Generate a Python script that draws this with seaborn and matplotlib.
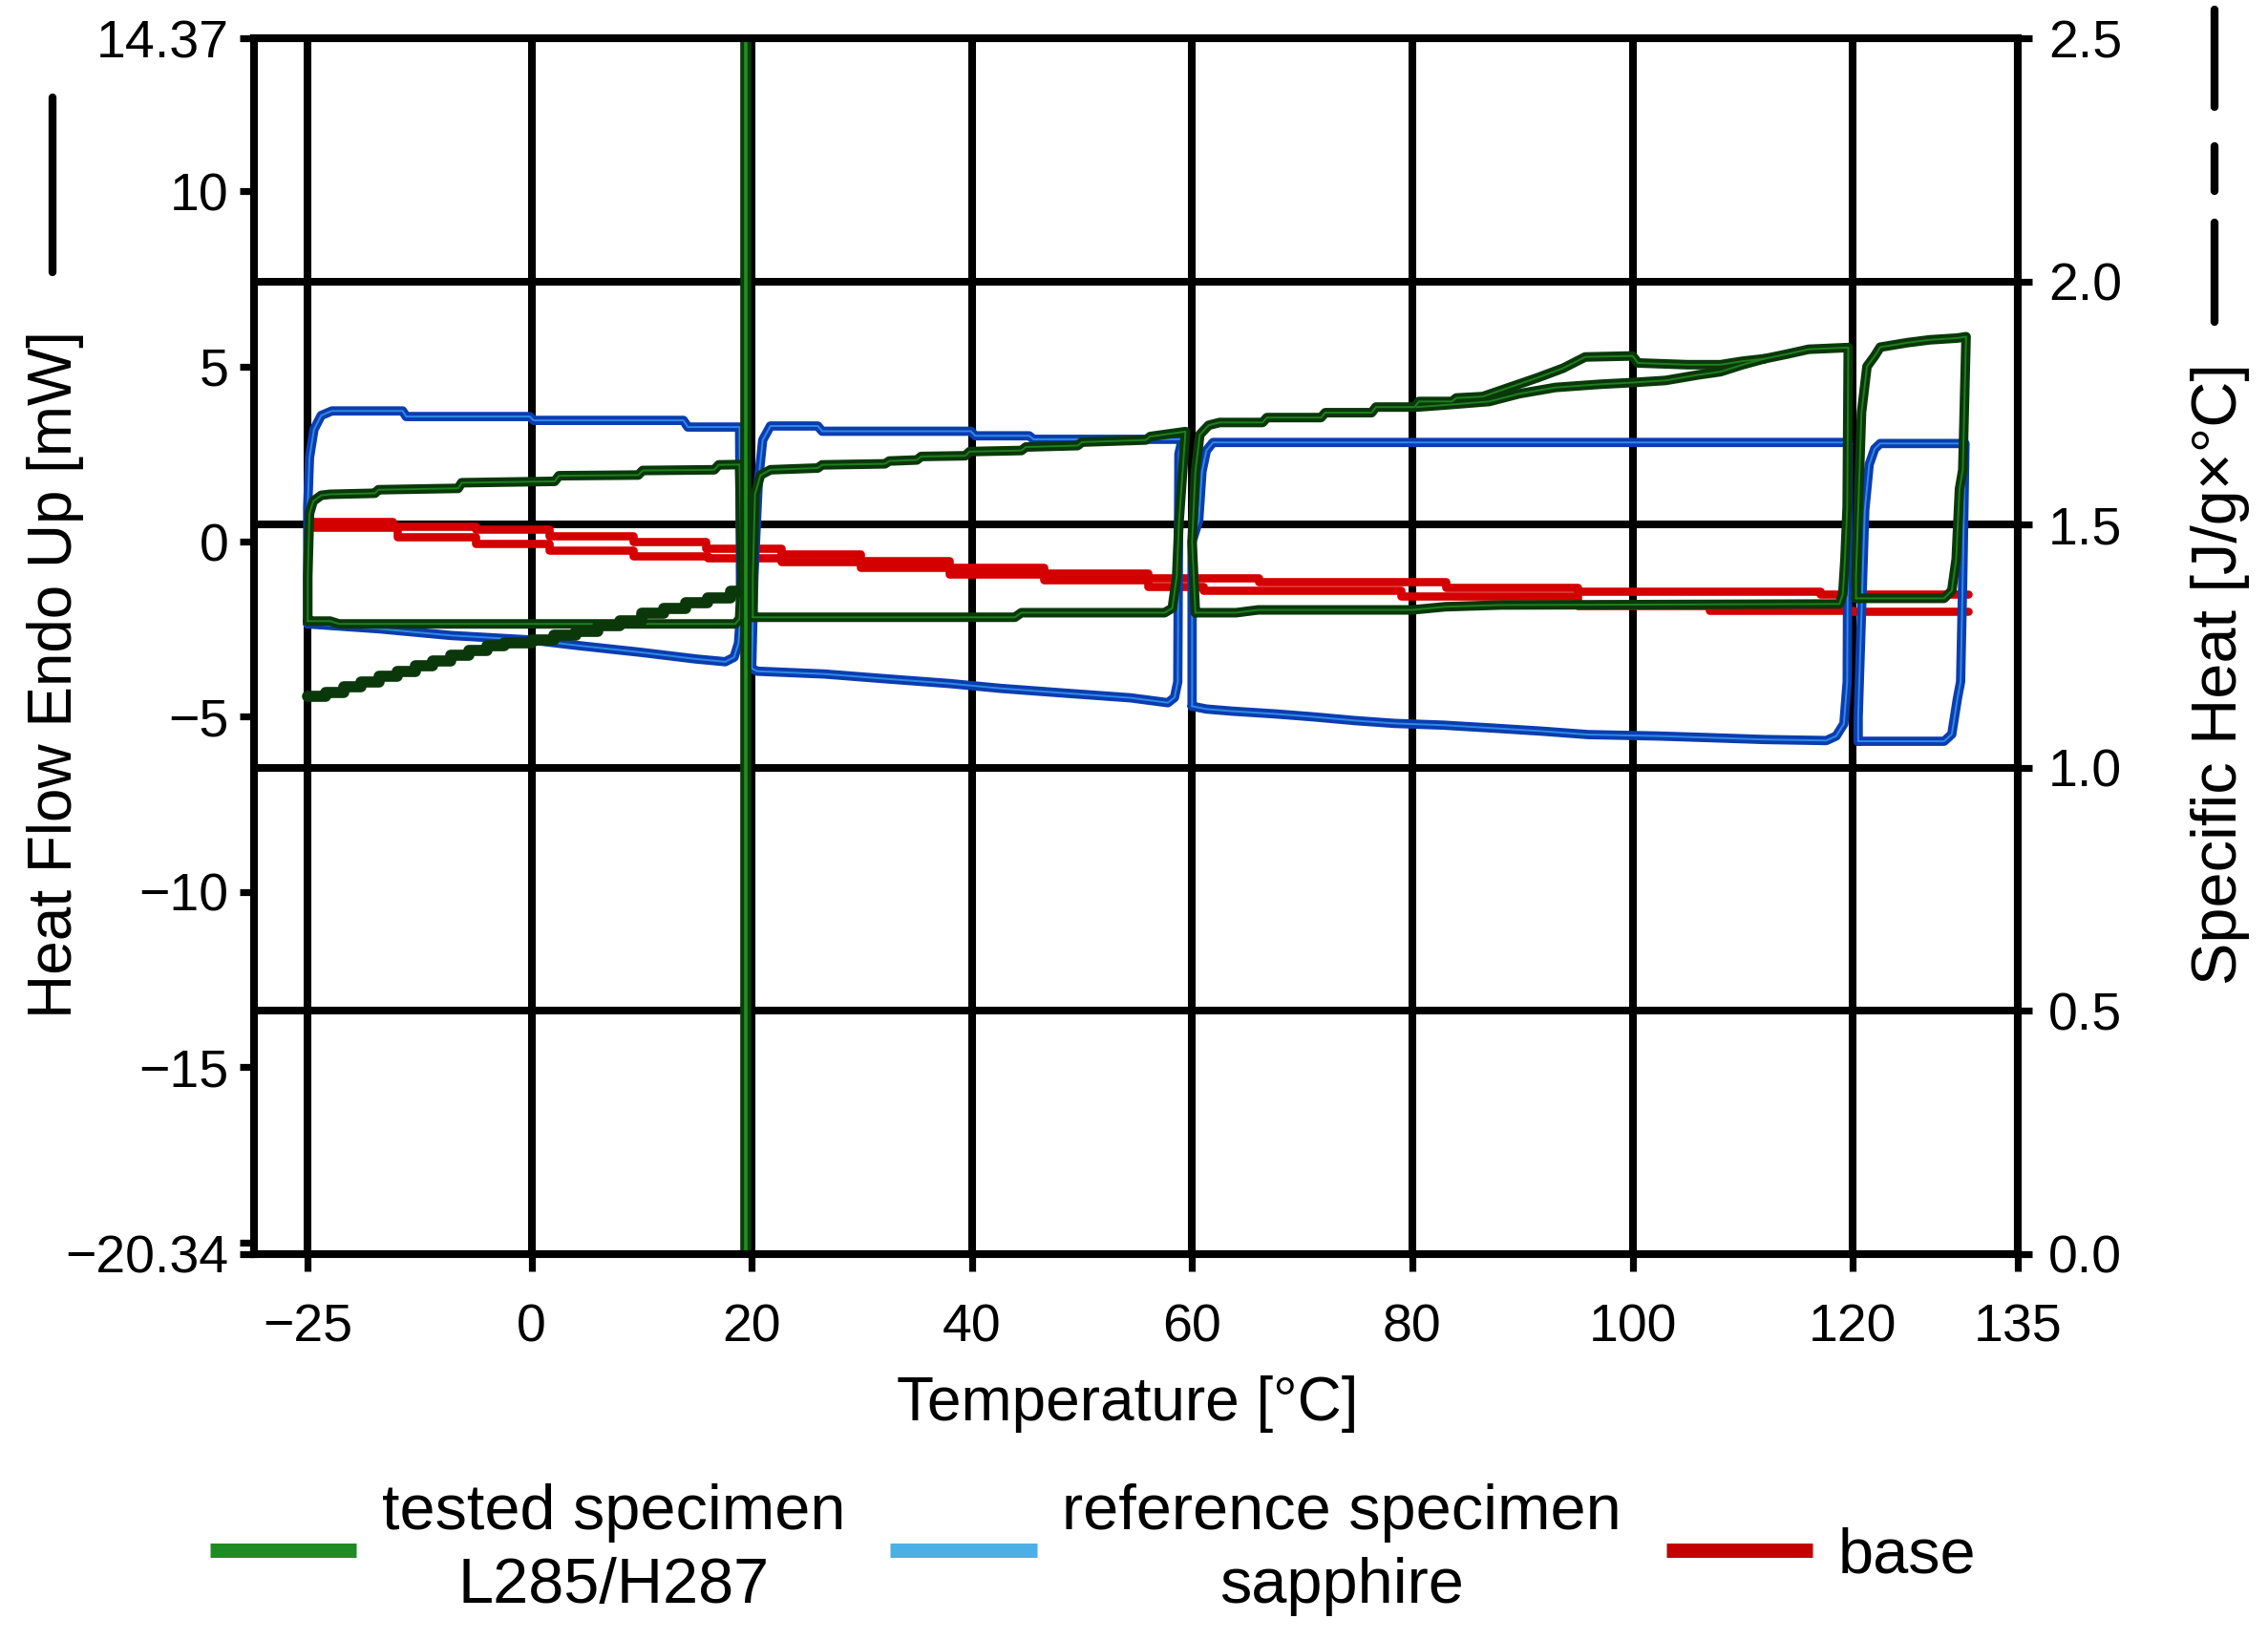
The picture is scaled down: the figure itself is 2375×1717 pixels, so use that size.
import numpy as np
import pandas as pd
import matplotlib
matplotlib.use('Agg')
import matplotlib.pyplot as plt
from matplotlib.lines import Line2D
import seaborn as sns

# ---- reference specimen (sapphire), heat flow in mW, one list per temperature step
sap_up_t = [
    [-25.0, -24.8, -24.3, -23.5, -22.3, -14.4, -14.0, -0.2, 0.2, 13.8, 14.2, 18.9],
    [20.2, 20.6, 21.0, 21.7, 26.0, 26.4, 39.9, 40.3, 45.2, 45.6, 59.1],
    [60.0, 60.6, 60.9, 61.3, 61.9, 90.0, 119.6],
    [120.5, 121.1, 121.5, 122.0, 122.5, 130.2],
]
sap_up = [
    [1.0, 2.4, 3.2, 3.6, 3.73, 3.73, 3.57, 3.57, 3.46, 3.46, 3.27, 3.27],
    [-1.0, 1.7, 2.9, 3.3, 3.3, 3.15, 3.15, 3.02, 3.02, 2.92, 2.92],
    [0.0, 0.6, 2.0, 2.6, 2.83, 2.83, 2.83],
    [-5.0, 0.9, 2.2, 2.65, 2.8, 2.8],
]
sap_low_t = [
    [-25.0, -17.0, -9.0, 0.0, 4.3, 9.9, 14.9, 17.6, 18.4, 18.8, 19.0],
    [20.0, 20.5, 26.6, 32.3, 37.9, 42.6, 48.2, 54.4, 57.8, 58.4, 58.7, 58.8],
    [60.0, 61.3, 63.6, 67.6, 70.9, 74.8, 78.4, 82.8, 87.1, 91.7, 96.0, 102.3,
     106.3, 112.0, 117.6, 118.5, 119.2, 119.5],
    [120.5, 128.3, 129.0, 129.5, 129.8, 130.0],
]
sap_low = [
    [-2.35, -2.49, -2.68, -2.81, -2.97, -3.16, -3.35, -3.43, -3.3, -2.9, -2.0],
    [-3.62, -3.7, -3.78, -3.92, -4.05, -4.19, -4.32, -4.46, -4.6, -4.45, -4.0, 2.5],
    [-4.7, -4.78, -4.84, -4.92, -5.0, -5.11, -5.19, -5.24, -5.32, -5.41, -5.51, -5.55,
     -5.59, -5.65, -5.68, -5.55, -5.2, -4.0],
    [-5.7, -5.7, -5.5, -4.5, -4.0, -1.0],
]

# ---- tested specimen L285/H287
spec_up_t = [
    [-25.0, -24.8, -24.4, -23.5, -22.5, -17.5, -17.1, -8.2, -7.8, 2.1, 2.5, 9.7, 10.1,
     16.6, 17.0, 18.9],
    [20.1, 20.3, 20.8, 21.7, 26.0, 26.4, 32.1, 32.5, 35.0, 35.4, 39.4, 39.8, 44.5, 44.9,
     49.6, 50.0, 55.8, 56.2, 59.4],
    [60.0, 60.3, 60.7, 61.5, 62.5, 66.4, 66.8, 71.7, 72.1, 76.3, 76.7, 80.2, 80.6, 83.6,
     84.0, 86.4, 88.8, 91.4, 93.7, 95.7, 100.0, 100.5, 105.0, 108.0, 110.0, 112.0, 114.0,
     116.0, 119.6],
    [120.3, 120.8, 121.3, 122.0, 122.5, 125.0, 127.0, 129.5, 130.3],
]
spec_up = [
    [-1.0, 0.8, 1.15, 1.32, 1.35, 1.38, 1.48, 1.52, 1.68, 1.72, 1.88, 1.9, 2.03, 2.05,
     2.19, 2.2],
    [-1.0, 1.35, 1.9, 2.05, 2.1, 2.19, 2.22, 2.3, 2.33, 2.43, 2.45, 2.57, 2.6, 2.7, 2.74,
     2.84, 2.9, 3.0, 3.14],
    [0.0, 2.0, 3.05, 3.32, 3.4, 3.4, 3.54, 3.54, 3.68, 3.68, 3.84, 3.84, 4.0, 4.0, 4.1,
     4.14, 4.4, 4.68, 4.95, 5.27, 5.3, 5.1, 5.05, 5.05, 5.15, 5.22, 5.35, 5.49, 5.54],
    [-1.0, 3.68, 5.0, 5.3, 5.55, 5.68, 5.76, 5.81, 5.85],
]
spec_low_t = [
    [-25.0, -22.5, -21.5, 0.0, 18.5, 18.9, 19.1],
    [20.1, 43.9, 44.5, 57.5, 58.2, 58.6, 58.8],
    [60.3, 64.0, 66.0, 80.0, 83.0, 88.0, 100.0, 118.8, 119.1, 119.3, 119.5],
    [120.3, 128.3, 129.0, 129.4, 129.7, 130.0],
]
spec_low = [
    [-2.27, -2.27, -2.35, -2.35, -2.35, -2.2, -1.0],
    [-2.16, -2.16, -2.03, -2.03, -1.9, -1.0, 0.5],
    [-2.03, -2.03, -1.95, -1.95, -1.86, -1.81, -1.8, -1.78, -1.5, -0.5, 1.0],
    [-1.62, -1.62, -1.4, -0.5, 1.5, 2.05],
]
spec_ramp_t = [-25, -23, -21, -19, -17, -15, -13, -11, -9, -7, -5, -3, 0, 2, 4, 6, 8,
               10, 12, 14, 16, 18.1, 19.0, 19.5]
spec_ramp = [-4.43, -4.3, -4.15, -4.0, -3.84, -3.7, -3.55, -3.4, -3.25, -3.1, -2.98,
             -2.9, -2.81, -2.68, -2.55, -2.4, -2.25, -2.05, -1.9, -1.75, -1.6, -1.41,
             -1.45, -2.2]
spec_branch_t = [80.4, 83.0, 87.0, 89.7, 93.0, 97.0, 100.0, 103.0, 106.0, 108.0, 110.0, 112.0]
spec_branch = [3.84, 3.9, 4.0, 4.22, 4.4, 4.49, 4.54, 4.6, 4.76, 4.85, 5.05, 5.22]
spike_t = [19.5, 19.5]
spike = [14.37, -20.34]

# ---- base line (two runs)
base_a_t = [-25, -15.5, -6.2, 1.6, 9.2, 15.8, 22.7, 29.9, 37.9, 46.5, 56, 66, 83, 95, 117, 130.5]
base_a = [0.57, 0.45, 0.35, 0.16, 0.0, -0.19, -0.35, -0.54, -0.73, -0.89, -1.03, -1.14,
          -1.3, -1.43, -1.5, -1.5]
base_b_t = [-25, -15, -6.2, 1.6, 9.2, 16, 22.7, 29.9, 37.9, 46.5, 56, 61, 79, 95, 107, 120, 130.5]
base_b = [0.4, 0.13, -0.05, -0.24, -0.41, -0.45, -0.57, -0.73, -0.92, -1.1, -1.27, -1.38,
          -1.54, -1.82, -1.97, -2.0, -2.0]

# axis ticks
temp_ticks = [-25, 0, 20, 40, 60, 80, 100, 120, 135]
temp_labels = ['\u221225', '0', '20', '40', '60', '80', '100', '120', '135']
hf_ticks = [14.37, 10, 5, 0, -5, -10, -15, -20.34]
hf_labels = ['14.37', '10', '5', '0', '\u22125', '\u221210', '\u221215', '\u221220.34']
cp_ticks = [0.0, 0.5, 1.0, 1.5, 2.0, 2.5]


def loop_frame(up_t, up_v, low_t, low_v, name):
    # each step: start of lower run -> upper run -> back along the lower run
    parts = []
    for i, (ut, uv, lt, lv) in enumerate(zip(up_t, up_v, low_t, low_v)):
        t = [lt[0]] + ut + lt[::-1]
        v = [lv[0]] + uv + lv[::-1]
        parts.append(pd.DataFrame({'T': t, 'mW': v, 'trace': f'{name}{i}'}))
    return pd.concat(parts, ignore_index=True)


def line_frame(t, v, name):
    return pd.DataFrame({'T': t, 'mW': v, 'trace': name})


def draw(ax, df, dark, light, lw_dark, lw_light, **kw):
    for color, lw in ((dark, lw_dark), (light, lw_light)):
        if color is None:
            continue
        sns.lineplot(data=df, x='T', y='mW', units='trace', estimator=None, sort=False,
                     color=color, lw=lw, ax=ax, legend=False, **kw)


sns.set_theme(style='white')
plt.rcParams['font.family'] = ['Liberation Sans', 'DejaVu Sans']
plt.rcParams['text.color'] = 'black'

fig = plt.figure(figsize=(11.875, 8.585), dpi=200)
ax = fig.add_axes([0.112, 0.2353, 0.7777, 0.7414])

sap_df = loop_frame(sap_up_t, sap_up, sap_low_t, sap_low, 'sap')
spec_df = pd.concat([
    loop_frame(spec_up_t, spec_up, spec_low_t, spec_low, 'spec'),
    line_frame(spec_branch_t, spec_branch, 'branch'),
], ignore_index=True)
ramp_df = line_frame(spec_ramp_t, spec_ramp, 'ramp')
base_df = pd.concat([line_frame(base_a_t, base_a, 'a'), line_frame(base_b_t, base_b, 'b')],
                    ignore_index=True)

draw(ax, base_df, '#d40000', None, 3.1, 0, drawstyle='steps-post')
draw(ax, sap_df, '#0b3db0', '#2f8ae6', 3.5, 0.7)
draw(ax, spec_df, '#0a380a', '#1f7f1f', 3.6, 0.7)
draw(ax, ramp_df, '#0a380a', None, 4.2, 0, drawstyle='steps-post')
draw(ax, line_frame(spike_t, spike, 'spike'), '#0b3b0b', '#1f8f1f', 4.2, 1.3)

# compressed scale below 0 °C, as on the instrument print
k = 0.813
fwd = lambda x: np.where(np.asarray(x, float) < 0, np.asarray(x, float) * k, x)
inv = lambda x: np.where(np.asarray(x, float) < 0, np.asarray(x, float) / k, x)
ax.set_xscale('function', functions=(fwd, inv))
ax.set_xlim(-31, 135)
ax.set_ylim(-20.34, 14.37)
ax.set_xticks(temp_ticks)
ax.set_xticklabels(temp_labels)
ax.set_yticks(hf_ticks)
ax.set_yticklabels(hf_labels)
ax.set_yticks([-20], minor=True)
ax.set_xlabel('')
ax.set_ylabel('')

ax2 = ax.twinx()
ax2.set_ylim(0, 2.5)
ax2.set_yticks(cp_ticks)
ax2.set_yticklabels([f'{v:.1f}' for v in cp_ticks])

ax.grid(axis='x', color='black', lw=2.9)
ax.grid(axis='y', visible=False)
ax.set_axisbelow(True)
ax2.grid(axis='y', color='black', lw=2.9)
ax2.grid(axis='x', visible=False)
ax.set_zorder(2)
ax2.set_zorder(1)
ax.patch.set_visible(False)

for a in (ax, ax2):
    for s in a.spines.values():
        s.set_color('black')
        s.set_linewidth(2.9)

ax.tick_params(axis='y', which='both', direction='out', left=True, length=5.5, width=2.6,
               labelsize=20, pad=4, colors='black')
ax.tick_params(axis='x', direction='out', bottom=True, length=6.5, width=2.6,
               labelsize=20, pad=12, colors='black')
ax2.tick_params(axis='y', direction='out', right=True, length=5.5, width=2.6,
                labelsize=20, pad=6, colors='black')

fig.text(0.0245, 0.589, 'Heat Flow Endo Up [mW]', rotation=90, ha='center', va='center',
         fontsize=23)
fig.text(0.979, 0.589, 'Specific Heat [J/g\u00d7\u00b0C]', rotation=90, ha='center',
         va='center', fontsize=24)
fig.text(0.497, 0.1438, 'Temperature [\u00b0C]', ha='center', va='center', fontsize=23)

# line style keys next to the axis titles
fig.add_artist(Line2D([0.0232, 0.0232], [0.834, 0.9406], color='black', lw=3))
for y0, y1 in ((0.9942, 0.9348), (0.9109, 0.8835), (0.8643, 0.8037)):
    fig.add_artist(Line2D([0.9764, 0.9764], [y0, y1], color='black', lw=3))

handles = [Line2D([], [], color='#1f8b24', lw=5.4, solid_capstyle='butt'),
           Line2D([], [], color='#4ab0e6', lw=5.4, solid_capstyle='butt'),
           Line2D([], [], color='#c40000', lw=5.4, solid_capstyle='butt')]
labels = ['tested specimen\nL285/H287', 'reference specimen\nsapphire', 'base']
leg = fig.legend(handles, labels, loc='center', bbox_to_anchor=(0.482, 0.055), ncol=3,
                 frameon=False, fontsize=24, handlelength=2.3, handletextpad=0.4,
                 columnspacing=0.7)
for t in leg.get_texts():
    t.set_multialignment('center')
    t.set_linespacing(1.3)

fig.savefig('out.png', dpi=200)
